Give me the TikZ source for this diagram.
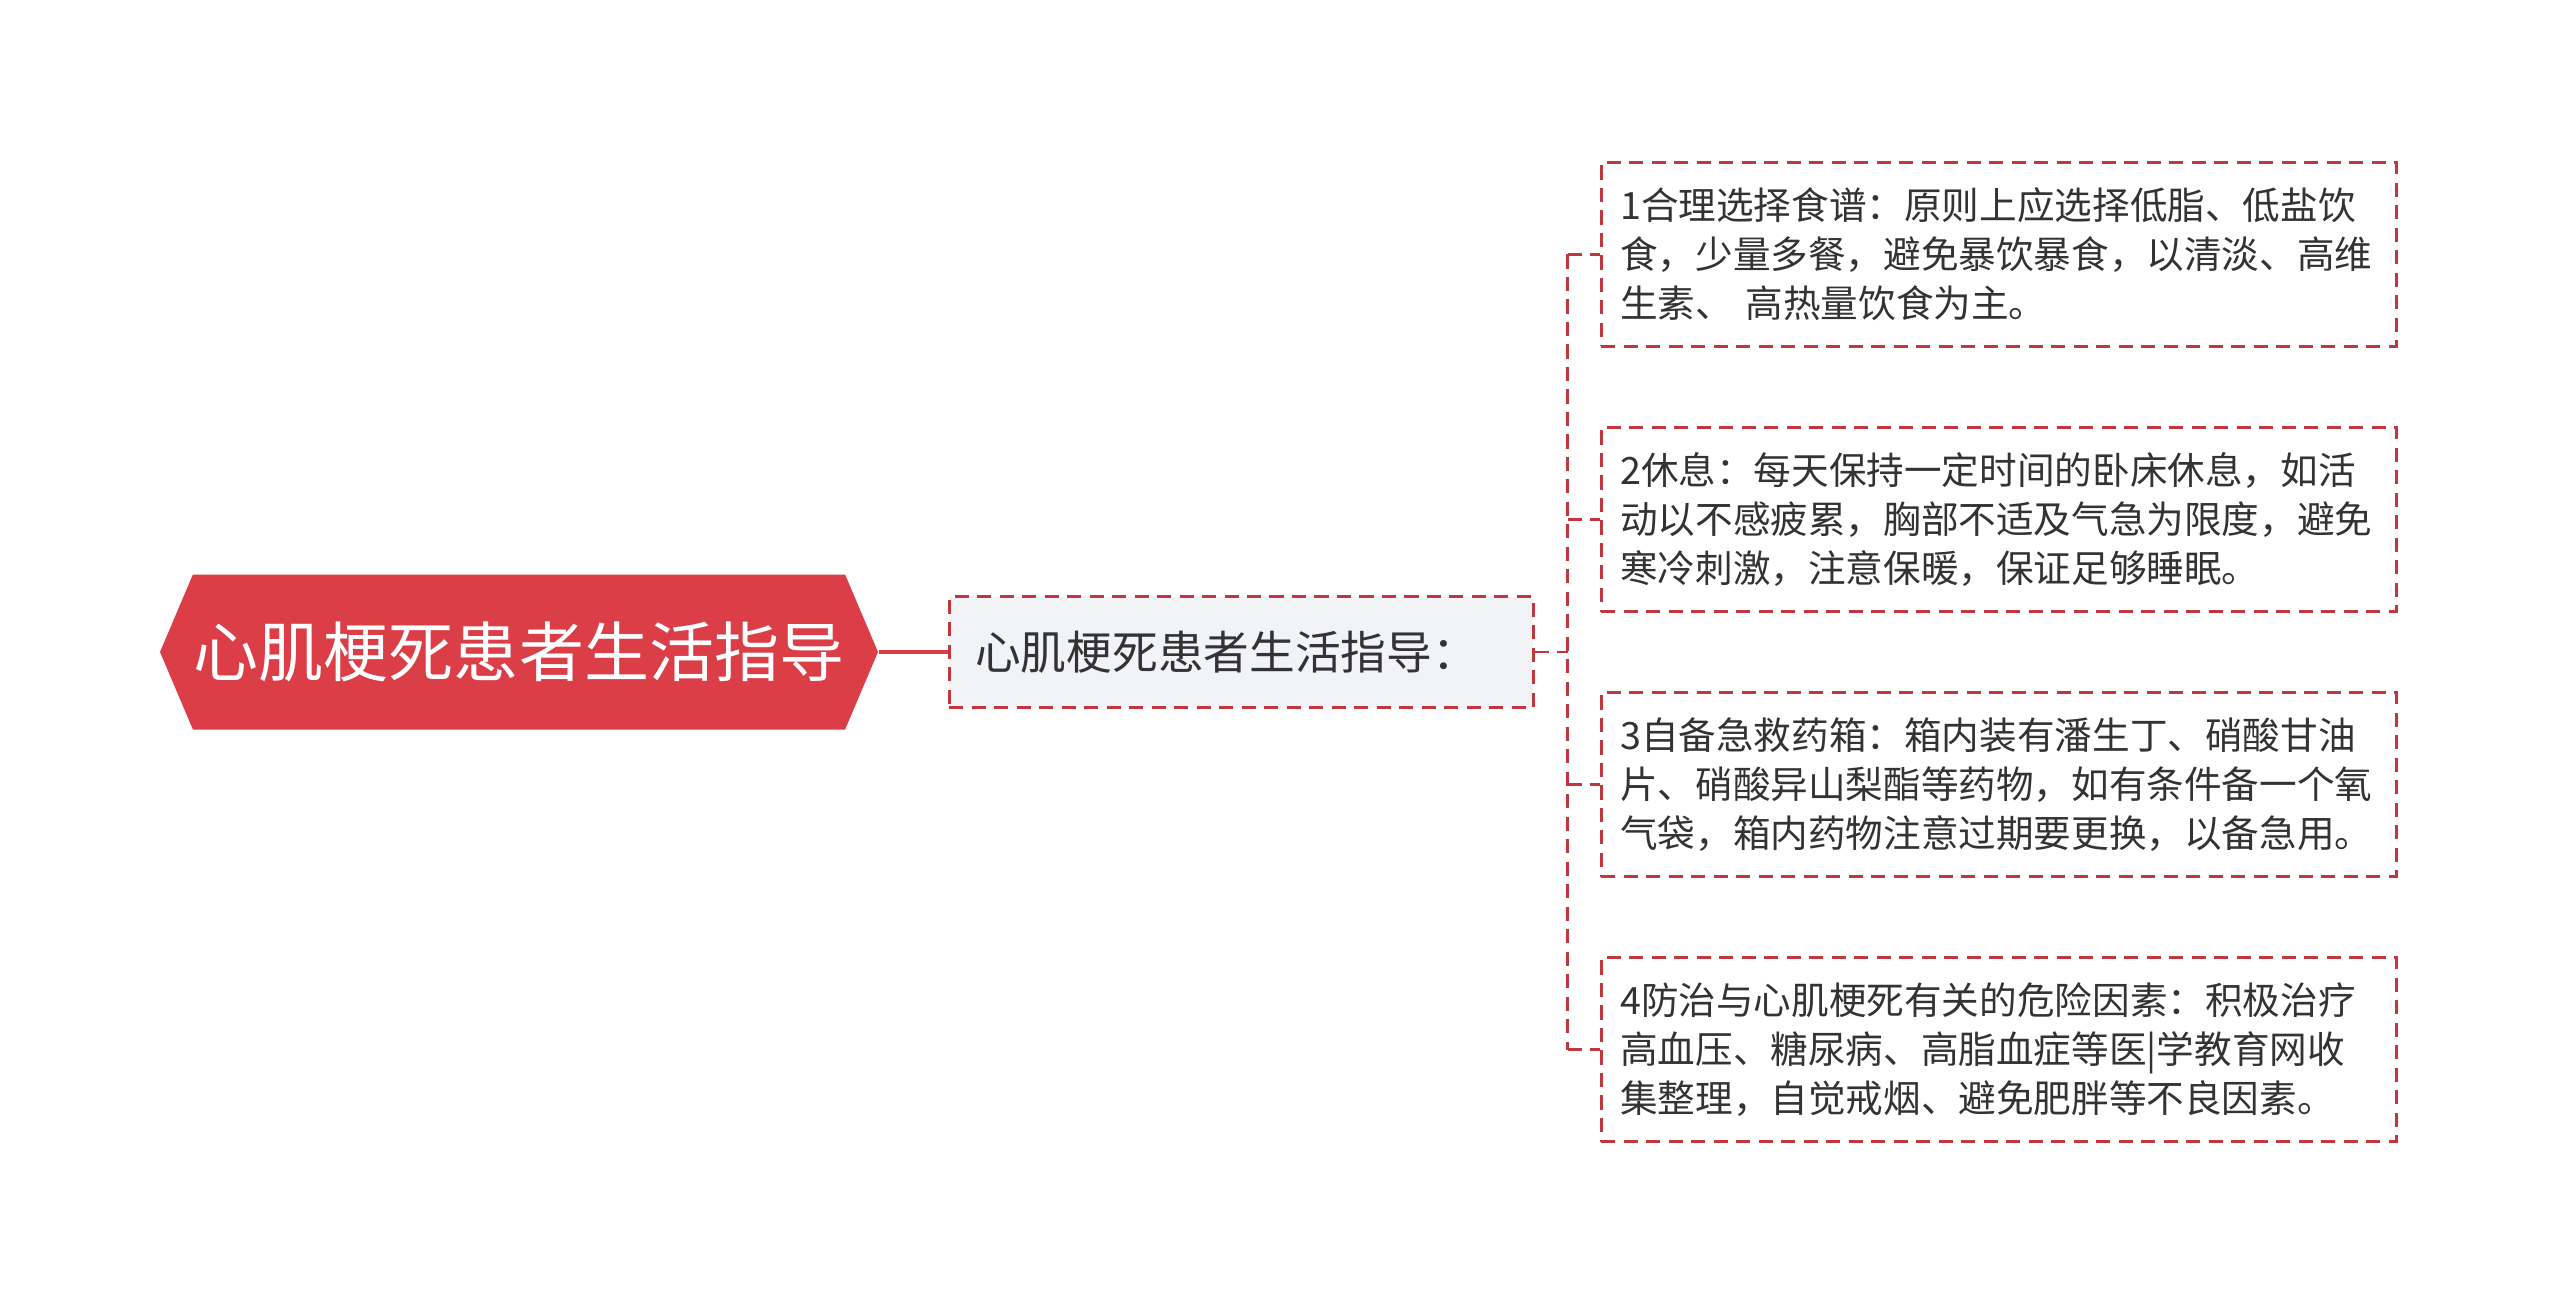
\documentclass[tikz,border=0pt]{standalone}
\usepackage{fontspec}
\setmainfont{Noto Sans CJK SC}
\usetikzlibrary{positioning,shapes.symbols}
\definecolor{rootred}{HTML}{DB3E46}
\definecolor{dashred}{HTML}{C2373E}
\definecolor{branchgray}{HTML}{F1F3F6}
\definecolor{textgray}{HTML}{333333}

\begin{document}
\begin{tikzpicture}[inner sep=0pt,
    root/.style={signal, signal to=west and east, signal pointer angle=134,
      fill=rootred, text=white, minimum width=7.18cm, minimum height=1.55cm,
      font=\fontsize{18.5}{22}\selectfont},
    dashbox/.style={draw=dashred, line width=0.85pt, dash pattern=on 4pt off 2.4pt,
      text=textgray, align=left},
    branch/.style={dashbox, fill=branchgray, minimum height=1.11cm,
      inner xsep=0.26cm, text width=5.32cm, font=\fontsize{13}{16}\selectfont},
    leaf/.style={dashbox, fill=white, minimum height=1.84cm,
      inner xsep=0.19cm, text width=7.57cm, font=\fontsize{10.7}{13.9}\selectfont},
    link/.style={draw=dashred, line width=0.85pt, dash pattern=on 4pt off 2.4pt}]
    \useasboundingbox (0,0) rectangle (25.6,-13.05);

    \node[root] (guide) at (5.19,-6.52) {心肌梗死患者生活指导};
    \node[branch] (intro) [right=0.69cm of guide] {心肌梗死患者生活指导：};
    \coordinate[right=0.33cm of intro] (hub);

    \node[leaf] (diet) [right=0.32cm of hub, yshift=3.975cm]
      {1合理选择食谱：原则上应选择低脂、低盐饮\\食，少量多餐，避免暴饮暴食，以清淡、高维\\生素、 高热量饮食为主。};
    \node[leaf] (rest) [right=0.32cm of hub, yshift=1.325cm]
      {2休息：每天保持一定时间的卧床休息，如活\\动以不感疲累，胸部不适及气急为限度，避免\\寒冷刺激，注意保暖，保证足够睡眠。};
    \node[leaf] (kit) [right=0.32cm of hub, yshift=-1.325cm]
      {3自备急救药箱：箱内装有潘生丁、硝酸甘油\\片、硝酸异山梨酯等药物，如有条件备一个氧\\气袋，箱内药物注意过期要更换，以备急用。};
    \node[leaf] (risk) [right=0.32cm of hub, yshift=-3.975cm]
      {4防治与心肌梗死有关的危险因素：积极治疗\\高血压、糖尿病、高脂血症等医|学教育网收\\集整理，自觉戒烟、避免肥胖等不良因素。};

    \path[draw=rootred, line width=1pt]
    (guide) edge (intro);

    \path[link]
    (intro) edge (hub)
    (diet.west -| hub) edge (risk.west -| hub)
    (diet.west -| hub) edge (diet)
    (rest.west -| hub) edge (rest)
    (kit.west -| hub) edge (kit)
    (risk.west -| hub) edge (risk);
\end{tikzpicture}
\end{document}
